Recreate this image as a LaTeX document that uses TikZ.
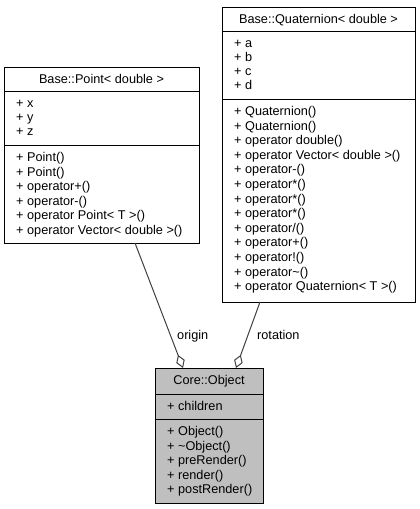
\documentclass[tikz,border=0pt]{standalone}
\usepackage{fontspec}
\setmainfont{Liberation Sans}
\usetikzlibrary{arrows.meta}
\definecolor{edgegrey}{RGB}{64,64,64}
\definecolor{objfill}{RGB}{191,191,191}
\begin{document}
\begin{tikzpicture}[x=1pt,y=-1pt,
  font=\fontsize{12.7}{14}\selectfont,
  classbox/.style={draw=black, line width=1pt, fill=white, inner sep=0pt, outer sep=0pt},
  divider/.style={draw=black, line width=1pt},
  row/.style={anchor=base west, inner sep=0pt},
  classtitle/.style={anchor=base, inner sep=0pt},
  agg/.style={draw=edgegrey, line width=1pt,
    -{Diamond[open, length=14pt, width=9pt, line width=1pt]}},
  rolelabel/.style={anchor=base west, inner sep=0pt}]
\useasboundingbox (0,0) rectangle (420,509);

% class boxes
\node[classbox, minimum width=195pt, minimum height=176pt] (point) at (101.5,155) {};
\node[classbox, minimum width=193pt, minimum height=295pt] (quat) at (318.5,154.5) {};
\node[classbox, fill=objfill, minimum width=108pt, minimum height=135pt] (object) at (209,435.5) {};

% compartment dividers
\draw[divider] (4,91) -- (199,91);
\draw[divider] (4,145.5) -- (199,145.5);
\draw[divider] (222,31) -- (415,31);
\draw[divider] (222,99.5) -- (415,99.5);
\draw[divider] (155,394) -- (263,394);
\draw[divider] (155,419.5) -- (263,419.5);

% Base::Point< double >
\node[classtitle] (pt-title) at (101.5,83.5) {Base::Point< double >};
\foreach \t [count=\i] in {+ x, + y, + z}
  \node[row] (pt-a\i) at (16,{107+14.3*(\i-1)}) {\t};
\foreach \t [count=\i] in {+ Point(), + Point(), + operator+(), + operator-(),
    + operator Point< T >(), + operator Vector< double >()}
  \node[row] (pt-m\i) at (16,{161.5+14.5*(\i-1)}) {\t};

% Base::Quaternion< double >
\node[classtitle] (q-title) at (318.5,23.5) {Base::Quaternion< double >};
\foreach \t [count=\i] in {+ a, + b, + c, + d}
  \node[row] (q-a\i) at (234,{47+14.2*(\i-1)}) {\t};
\foreach \t [count=\i] in {+ Quaternion(), + Quaternion(), + operator double(),
    + operator Vector< double >(), + operator-(), + operator*(), + operator*(),
    + operator*(), + operator/(), + operator+(), + operator!(),
    + operator\textasciitilde(), + operator Quaternion< T >()}
  \node[row] (q-m\i) at (234,{115.5+14.6*(\i-1)}) {\t};

% Core::Object
\node[classtitle] (o-title) at (209,384.5) {Core::Object};
\node[row] (o-a1) at (167,410) {+ children};
\foreach \t [count=\i] in {+ Object(), + \textasciitilde Object(), + preRender(),
    + render(), + postRender()}
  \node[row] (o-m\i) at (167,{435.5+14.5*(\i-1)}) {\t};

% aggregation connectors
\draw[agg] ([xshift=33.5pt]point.south) -- ([xshift=-26pt]object.north);
\draw[agg] ([xshift=-58.5pt]quat.south) -- ([xshift=27pt]object.north);
\node[rolelabel] (l-origin) at (177,339.5) {origin};
\node[rolelabel] (l-rotation) at (257,339.5) {rotation};
\end{tikzpicture}
\end{document}
